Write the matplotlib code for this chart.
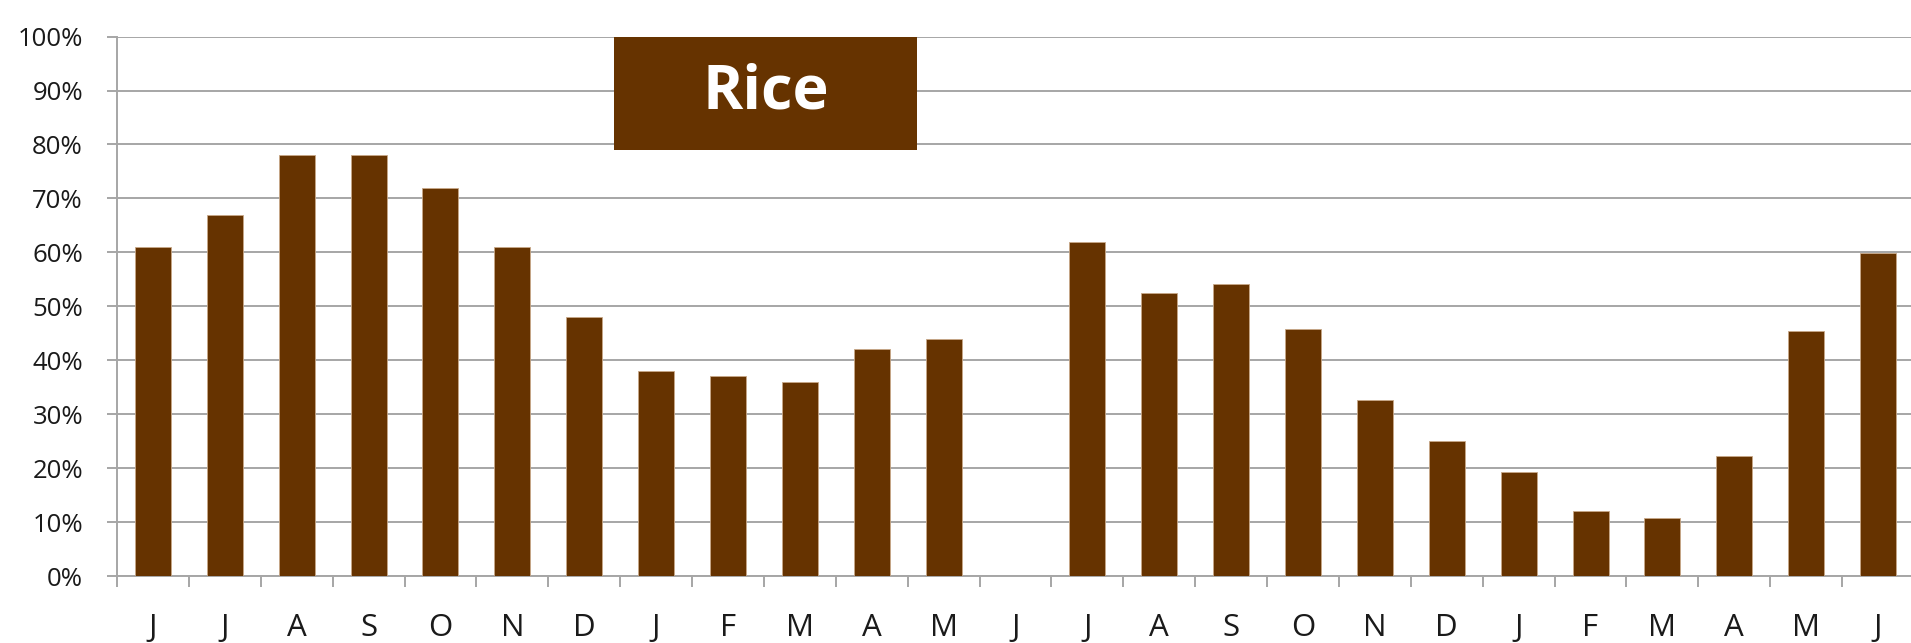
import numpy as np
import matplotlib
matplotlib.use("Agg")
import matplotlib.pyplot as plt
from matplotlib.ticker import FixedLocator, PercentFormatter
from matplotlib.patches import Rectangle

months = ["J", "J", "A", "S", "O", "N", "D", "J", "F", "M", "A", "M", "J",
          "J", "A", "S", "O", "N", "D", "J", "F", "M", "A", "M", "J"]
share = [61, 67, 78, 78, 72, 61, 48, 38, 37, 36, 42, 44, np.nan,
         62, 52.4, 54.2, 45.8, 32.7, 25.1, 19.2, 12, 10.8, 22.3, 45.4, 59.8]
yticks = list(range(0, 101, 10))
title = "Rice"

brown = "#663300"
grid_gray = "#a6a6a6"
W, H = 1911, 643

fig = plt.figure(figsize=(W / 100, H / 100), dpi=100)
ax = fig.add_axes([117 / W, (H - 576) / H, (1914 - 117) / W, (576 - 36.6) / H])

x = np.arange(len(months))
ax.bar(x, share, width=0.5, color=brown, edgecolor="#c8a888", linewidth=0.6, zorder=3)

ax.set_xlim(-0.5, len(months) - 0.5)
ax.set_ylim(0, 100)

ax.yaxis.set_major_locator(FixedLocator(yticks))
ax.yaxis.set_major_formatter(PercentFormatter(decimals=0))
ax.grid(axis="y", color=grid_gray, linewidth=1.4, zorder=0)
ax.set_axisbelow(True)

ax.set_xticks(x)
ax.set_xticklabels(months)
ax.set_xticks(np.arange(len(months) + 1) - 0.5, minor=True)
ax.tick_params(axis="x", which="major", length=0, pad=27, labelsize=22.5)
ax.tick_params(axis="x", which="minor", length=8, width=1.4, color=grid_gray, direction="out")
ax.tick_params(axis="y", length=7.5, width=1.4, color=grid_gray, pad=17, labelsize=18.5)

for lab in ax.get_xticklabels() + ax.get_yticklabels():
    lab.set_fontfamily(["Open Sans", "DejaVu Sans"])
    lab.set_color("#1a1a1a")

for side in ("top", "right"):
    ax.spines[side].set_visible(False)
for side in ("left", "bottom"):
    ax.spines[side].set_color(grid_gray)
    ax.spines[side].set_linewidth(1.4)

# title banner
bx0, bx1 = 614 / W, 917 / W
by0, by1 = (H - 150) / H, (H - 36.6) / H
fig.patches.append(Rectangle((bx0, by0), bx1 - bx0, by1 - by0, transform=fig.transFigure,
                             facecolor=brown, edgecolor="none", zorder=5))
fig.text((bx0 + bx1) / 2, (by0 + by1) / 2, title, color="white", fontsize=44,
         fontweight="bold", family=["Open Sans", "DejaVu Sans"],
         ha="center", va="center", zorder=6)

fig.savefig("out.png", dpi=100, facecolor="white")
